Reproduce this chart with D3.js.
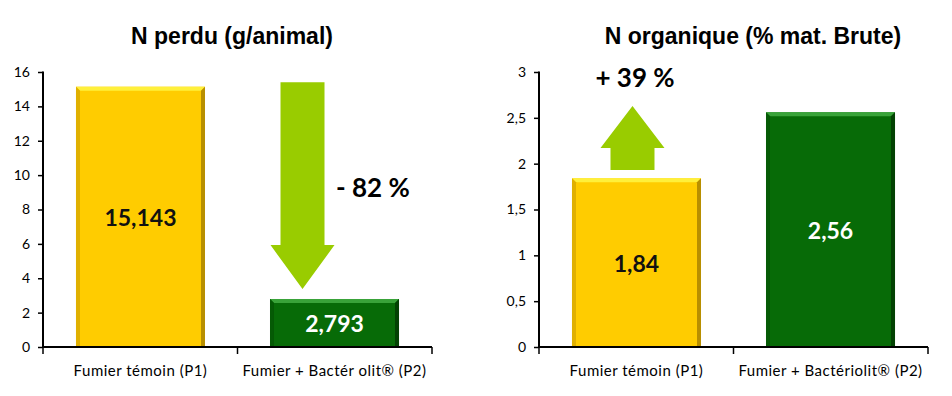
<!DOCTYPE html>
<html lang="fr">
<head>
  <meta charset="UTF-8">
  <title>N perdu / N organique</title>
  <style>
    body { margin: 0; background: #fff; }
    svg { display: block; }
    .tick text { font-family: Lato, sans-serif; font-size: 14px; fill: #000; }
    .title { font-family: "Liberation Sans", Arial, sans-serif; font-weight: bold; font-size: 23px; }
    .cat { font-family: Lato, sans-serif; font-size: 15px; letter-spacing: 0.5px; }
    .val { font-family: Lato, sans-serif; font-weight: bold; font-size: 23px; }
    .pct { font-family: Lato, sans-serif; font-weight: bold; font-size: 26px; }
  </style>
</head>
<body>
  <svg width="952" height="396"></svg>
  <script src="https://d3js.org/d3.v7.min.js"></script>
  <script>
    // data
    var categoriesLeft = ["Fumier témoin (P1)", "Fumier + Bactér olit® (P2)"];
    var categoriesRight = ["Fumier témoin (P1)", "Fumier + Bactériolit® (P2)"];
    var nPerdu = [15.143, 2.793];
    var nPerduLabels = ["15,143", "2,793"];
    var nOrganique = [1.84, 2.56];
    var nOrganiqueLabels = ["1,84", "2,56"];
    var ticksLeft = [0, 2, 4, 6, 8, 10, 12, 14, 16];
    var ticksRight = [0, 0.5, 1, 1.5, 2, 2.5, 3];
    var tickLabelsRight = ["0", "0,5", "1", "1,5", "2", "2,5", "3"];
    var titles = ["N perdu (g/animal)", "N organique (% mat. Brute)"];
    // arrows: [top value, head base value, tip/bottom value]
    var downArrow = [15.4, 5.93, 3.37];
    var upArrow = [2.63, 2.17, 1.93];
    var pctLabels = ["- 82 %", "+ 39 %"];

    var svg = d3.select("svg");
    var plotTop = 72, plotBottom = 347;

    var barColors = [
      {fill: "#ffcc00", light: "#fff03a", dark: "#b88f00", side: "#e0b000", text: "#111"},
      {fill: "#076b07", light: "#39a339", dark: "#034203", side: "#055a05", text: "#fff"}
    ];

    function drawChart(opts) {
      var g = svg.append("g");
      var x = d3.scaleBand()
                .domain(opts.cats)
                .range([opts.x0, opts.x1])
                .paddingInner(0.335)
                .paddingOuter(0.17);
      var y = d3.scaleLinear()
                .domain([0, opts.max])
                .range([plotBottom, plotTop]);

      // bars with bevel
      opts.values.forEach(function(v, i) {
        var bx = x(opts.cats[i]), bw = x.bandwidth();
        var by = y(v), bh = plotBottom - by;
        var c = barColors[i], b = 4;
        g.append("rect").attr("x", bx).attr("y", by).attr("width", bw).attr("height", bh).attr("fill", c.fill);
        g.append("polygon").attr("fill", c.light)
          .attr("points", [[bx, by], [bx + bw, by], [bx + bw - b, by + b], [bx + b, by + b]].join(" "));
        g.append("polygon").attr("fill", c.dark)
          .attr("points", [[bx + bw, by], [bx + bw, plotBottom], [bx + bw - b, plotBottom], [bx + bw - b, by + b]].join(" "));
        g.append("polygon").attr("fill", c.side)
          .attr("points", [[bx, by], [bx + b, by + b], [bx + b, plotBottom], [bx, plotBottom]].join(" "));
        g.append("text").attr("class", "val")
          .attr("x", bx + bw / 2).attr("y", (by + plotBottom) / 2)
          .attr("text-anchor", "middle").attr("dominant-baseline", "central")
          .attr("fill", c.text)
          .text(opts.labels[i]);
      });

      // y axis
      g.append("g")
        .attr("transform", "translate(" + opts.x0 + ",0)")
        .call(d3.axisLeft(y).tickValues(opts.ticks).tickSize(5).tickPadding(8)
              .tickFormat(function(d, i) { return opts.tickLabels[i]; }))
        .call(function(a) {
          a.select(".domain").attr("stroke-width", 2).attr("d", "M0," + (plotTop - 0.5) + "V" + plotBottom);
          a.selectAll(".tick line").attr("stroke-width", 1.5);
        });

      // x axis
      var xa = g.append("g").attr("transform", "translate(0," + plotBottom + ")");
      xa.append("line").attr("x1", opts.x0 - 1).attr("x2", opts.x1).attr("stroke", "#000").attr("stroke-width", 2);
      [opts.x0, (opts.x0 + opts.x1) / 2, opts.x1].forEach(function(t) {
        xa.append("line").attr("x1", t).attr("x2", t).attr("y1", 0).attr("y2", 7)
          .attr("stroke", "#000").attr("stroke-width", 1.5);
      });
      opts.cats.forEach(function(c) {
        xa.append("text").attr("class", "cat")
          .attr("x", x(c) + x.bandwidth() / 2).attr("y", 23)
          .attr("text-anchor", "middle").attr("dominant-baseline", "central")
          .text(c);
      });

      // title
      g.append("text").attr("class", "title")
        .attr("x", opts.titleX).attr("y", 44)
        .attr("text-anchor", "middle")
        .text(opts.title);

      return {x: x, y: y, g: g};
    }

    var left = drawChart({
      cats: categoriesLeft, values: nPerdu, labels: nPerduLabels, max: 16,
      ticks: ticksLeft, tickLabels: ticksLeft.map(String),
      x0: 43, x1: 432, title: titles[0], titleX: 232
    });

    var right = drawChart({
      cats: categoriesRight, values: nOrganique, labels: nOrganiqueLabels, max: 3,
      ticks: ticksRight, tickLabels: tickLabelsRight,
      x0: 539, x1: 928, title: titles[1], titleX: 753
    });

    var arrowGreen = "#99cc00";

    // down arrow over second bar of left chart
    var dcx = left.x(categoriesLeft[1]) + left.x.bandwidth() / 2 - 32;
    var ly = left.y;
    left.g.insert("polygon", ":first-child")
      .attr("fill", arrowGreen)
      .attr("points", [
        [dcx - 22, ly(downArrow[0])], [dcx + 22, ly(downArrow[0])],
        [dcx + 22, ly(downArrow[1])], [dcx + 32, ly(downArrow[1])],
        [dcx, ly(downArrow[2])],
        [dcx - 32, ly(downArrow[1])], [dcx - 22, ly(downArrow[1])]
      ].join(" "));
    left.g.append("text").attr("class", "pct")
      .attr("x", 336).attr("y", ly(9.3))
      .attr("dominant-baseline", "central")
      .text(pctLabels[0]);

    // up arrow over first bar of right chart
    var ucx = right.x(categoriesRight[0]) + right.x.bandwidth() / 2 - 4;
    var ry = right.y;
    right.g.append("polygon")
      .attr("fill", arrowGreen)
      .attr("points", [
        [ucx - 22, ry(upArrow[2])], [ucx + 22, ry(upArrow[2])],
        [ucx + 22, ry(upArrow[1])], [ucx + 32, ry(upArrow[1])],
        [ucx, ry(upArrow[0])],
        [ucx - 32, ry(upArrow[1])], [ucx - 22, ry(upArrow[1])]
      ].join(" "));
    right.g.append("text").attr("class", "pct")
      .attr("x", 635).attr("y", ry(2.95))
      .attr("text-anchor", "middle").attr("dominant-baseline", "central")
      .text(pctLabels[1]);
  </script>
</body>
</html>
